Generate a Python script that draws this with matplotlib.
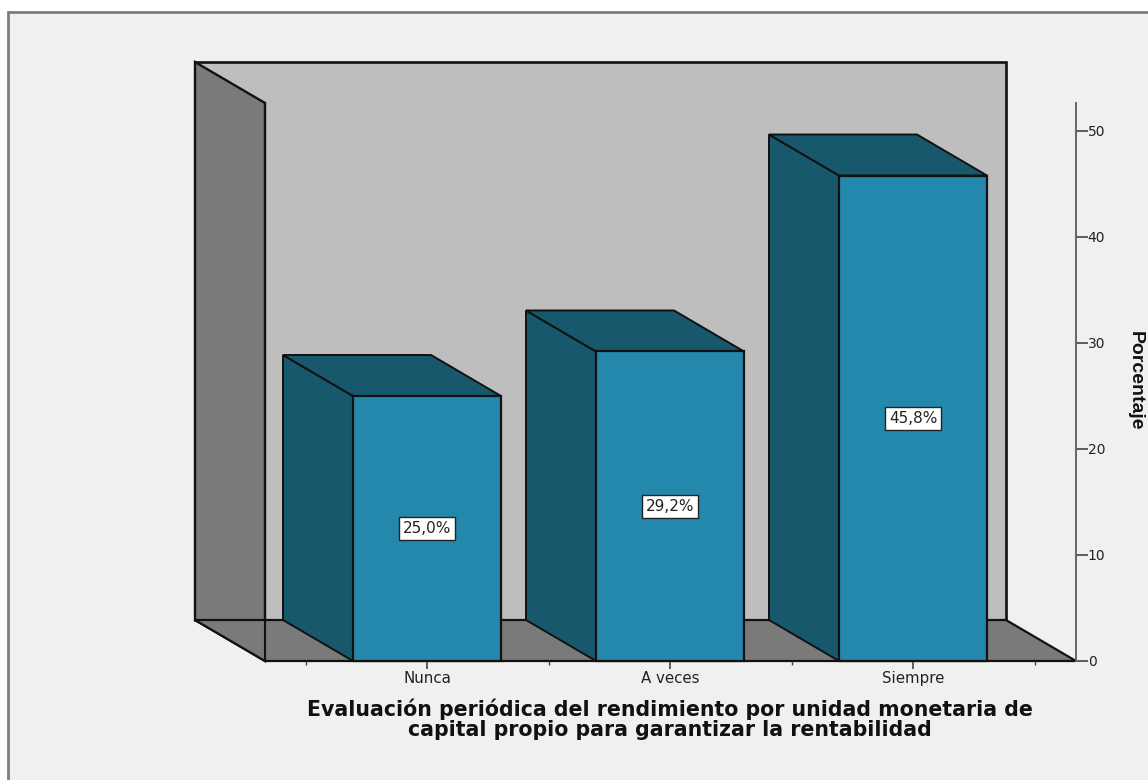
import matplotlib
matplotlib.use("Agg")
import matplotlib.pyplot as plt
from matplotlib.patches import Polygon, Rectangle

categories = ["Nunca", "A veces", "Siempre"]
percent = [25.0, 29.2, 45.8]
value_labels = ["25,0%", "29,2%", "45,8%"]
y_ticks = [0, 10, 20, 30, 40, 50]
minor_x = [-0.5, 0.5, 1.5, 2.5]

W, H = 1148, 780
LEFT, RIGHT, BOTTOM, TOP = 265, 1076, 661, 103
PX_X = 243.0   # pixels per category
PX_Y = 10.6    # pixels per percent
YMAX = (BOTTOM - TOP) / PX_Y
XMIN = -(427 - LEFT) / PX_X
XMAX = (RIGHT - 427) / PX_X

# depth of the fake 3d box, in data units
DX = -70 / PX_X
DY = 41 / PX_Y
BAR_W = 148 / PX_X
WALL_H = (620 - 62) / PX_Y

EDGE = "#111111"
WALL = "#bebebe"
SIDE = "#7a7a7a"
BAR_FRONT = "#2488ac"
BAR_DARK = "#17586c"

fig = plt.figure(figsize=(W / 100, H / 100), dpi=100, facecolor="white")

# panel background with its gray frame
fig.add_artist(Rectangle((8 / W, -0.02), 1.1, 1 - 12 / H + 0.02, transform=fig.transFigure,
                         facecolor="#f0f0f0", edgecolor="#7d7d7d", linewidth=2, zorder=-1))

ax = fig.add_axes([LEFT / W, 1 - BOTTOM / H, (RIGHT - LEFT) / W, (BOTTOM - TOP) / H])
ax.set_xlim(XMIN, XMAX)
ax.set_ylim(0, YMAX)
ax.patch.set_visible(False)


def face(points, color, lw=1.6, z=1):
    ax.add_patch(Polygon(points, closed=True, facecolor=color, edgecolor=EDGE,
                         linewidth=lw, clip_on=False, zorder=z, joinstyle="miter"))


# back wall, side wall and floor
face([(XMIN + DX, DY), (XMAX + DX, DY), (XMAX + DX, DY + WALL_H), (XMIN + DX, DY + WALL_H)], WALL, 1.9)
face([(XMIN, 0), (XMIN + DX, DY), (XMIN + DX, DY + WALL_H), (XMIN, YMAX)], SIDE, 1.7)
face([(XMIN, 0), (XMAX, 0), (XMAX + DX, DY), (XMIN + DX, DY)], SIDE, 1.6)
ax.plot([XMIN, XMIN], [0, YMAX], color=EDGE, linewidth=1.5, clip_on=False, zorder=1.5)

for i, v in enumerate(percent):
    l = i - BAR_W / 2
    r = i + BAR_W / 2
    z = 2 + i
    face([(l, 0), (l + DX, DY), (l + DX, v + DY), (l, v)], BAR_DARK, 1.4, z)
    face([(l, v), (l + DX, v + DY), (r + DX, v + DY), (r, v)], BAR_DARK, 1.4, z)
    face([(l, 0), (r, 0), (r, v), (l, v)], BAR_FRONT, 1.6, z)
    ax.text(i, v / 2, value_labels[i], ha="center", va="center", fontsize=11,
            color="#222222", zorder=z + 0.5,
            bbox=dict(boxstyle="square,pad=0.26", facecolor="white", edgecolor="#222222", linewidth=1))

# axes: value scale on the right, categories below
for s in ["top", "left", "bottom"]:
    ax.spines[s].set_visible(False)
ax.spines["right"].set_color("#666666")
ax.spines["right"].set_linewidth(1.4)
ax.yaxis.tick_right()
ax.set_yticks(y_ticks)
ax.tick_params(axis="y", length=8.5, width=1.2, color="#444444", pad=0, labelsize=10, labelcolor="#222222")
ax.set_xticks(range(len(categories)))
ax.set_xticklabels(categories)
ax.set_xticks(minor_x, minor=True)
ax.tick_params(axis="x", which="major", length=5.5, width=1.2, color="#444444", pad=1.5,
               labelsize=10.8, labelcolor="#222222")
ax.tick_params(axis="x", which="minor", length=3, width=1, color="#444444")

fig.text(670 / W, 1 - 719 / H,
         "Evaluación periódica del rendimiento por unidad monetaria de\ncapital propio para garantizar la rentabilidad",
         ha="center", va="center", fontsize=14.8, fontweight="bold", color="#111111",
         family="DejaVu Sans", linespacing=1.0)
fig.text(1135 / W, 1 - 381 / H, "Porcentaje", rotation=-90, ha="center", va="center",
         fontsize=14, fontweight="bold", color="#111111",
         family=["Liberation Sans Narrow", "Liberation Sans"])

fig.savefig("out.png", dpi=100, facecolor="white")
